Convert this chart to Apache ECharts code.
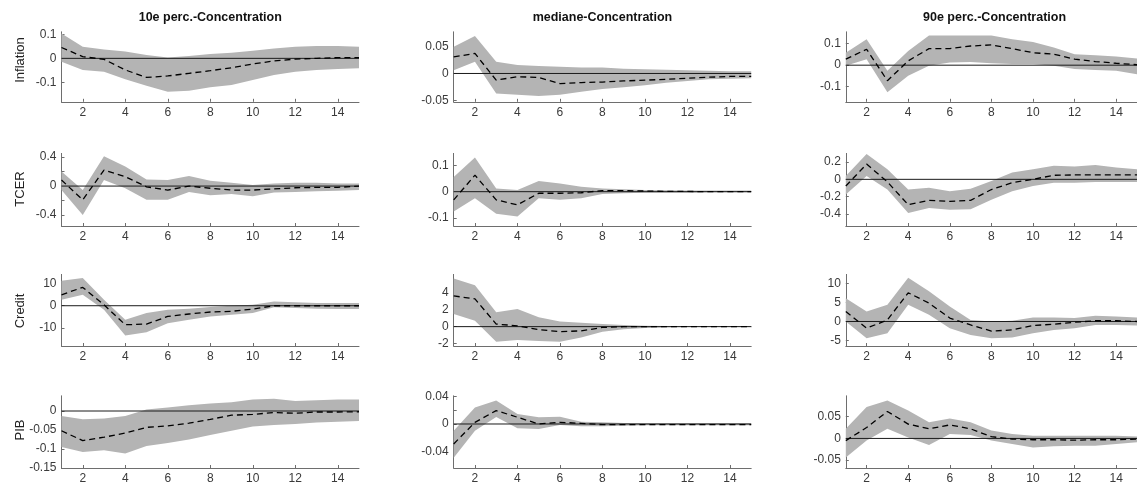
<!DOCTYPE html>
<html>
<head>
<meta charset="utf-8">
<script src="https://cdn.jsdelivr.net/npm/echarts@6/dist/echarts.min.js"></script>
<style>
html,body{margin:0;padding:0;background:#fff;}
#chart{width:1137px;height:494px;}
</style>
</head>
<body>
<div id="chart"></div>
<script>
// ---- categories / labels ----
const horizons = [1,2,3,4,5,6,7,8,9,10,11,12,13,14,15];
const xTickValues = [2,4,6,8,10,12,14];
const columnTitles = ['10e perc.-Concentration','mediane-Concentration','90e perc.-Concentration'];
const rowNames = ['Inflation','TCER','Credit','PIB'];

// ---- Inflation ----
const inf10Median = [0.045,0.007,-0.004,-0.048,-0.079,-0.073,-0.062,-0.051,-0.039,-0.023,-0.011,-0.003,0.0,0.003,0.003];
const inf10Lower  = [-0.014,-0.048,-0.055,-0.087,-0.114,-0.138,-0.134,-0.12,-0.11,-0.09,-0.069,-0.055,-0.048,-0.044,-0.041];
const inf10Upper  = [0.103,0.048,0.037,0.028,0.014,0.004,0.01,0.018,0.023,0.032,0.041,0.048,0.051,0.051,0.048];

const inf50Median = [0.031,0.0375,-0.0125,-0.006,-0.0075,-0.019,-0.017,-0.016,-0.014,-0.0125,-0.011,-0.009,-0.007,-0.0056,-0.0056];
const inf50Lower  = [0.006,0.022,-0.0375,-0.04,-0.042,-0.04,-0.034,-0.029,-0.026,-0.022,-0.0175,-0.014,-0.011,-0.01,-0.009];
const inf50Upper  = [0.05,0.07,0.022,0.016,0.014,0.0125,0.011,0.011,0.009,0.008,0.007,0.006,0.005,0.004,0.004];

const inf90Median = [0.028,0.074,-0.072,0.02,0.077,0.077,0.089,0.094,0.077,0.058,0.051,0.028,0.017,0.009,0.002];
const inf90Lower  = [-0.003,0.028,-0.126,-0.049,-0.003,0.012,0.015,0.009,0.005,0.005,-0.003,-0.018,-0.022,-0.026,-0.042];
const inf90Upper  = [0.058,0.12,-0.026,0.066,0.138,0.138,0.138,0.138,0.12,0.108,0.082,0.051,0.046,0.04,0.031];

// ---- TCER ----
const tcer10Median = [0.083,-0.19,0.22,0.13,-0.01,-0.055,0,-0.03,-0.055,-0.055,-0.04,-0.023,-0.018,-0.018,0];
const tcer10Lower  = [-0.055,-0.4,0.083,-0.03,-0.19,-0.19,-0.08,-0.125,-0.11,-0.14,-0.09,-0.08,-0.07,-0.065,-0.055];
const tcer10Upper  = [0.2,-0.055,0.41,0.27,0.09,0.083,0.14,0.074,0.046,0.014,0.037,0.046,0.046,0.037,0.037];

const tcer50Median = [-0.031,0.0625,-0.031,-0.05,-0.006,-0.006,-0.004,0.004,0.004,0.0025,0.001,0.001,0,0,0];
const tcer50Lower  = [-0.075,-0.025,-0.084,-0.094,-0.025,-0.031,-0.025,-0.009,-0.006,-0.004,-0.004,-0.004,-0.0025,-0.0025,-0.0025];
const tcer50Upper  = [0.056,0.129,0.0125,0.006,0.04,0.031,0.019,0.0125,0.009,0.006,0.005,0.004,0.004,0.004,0.004];

const tcer90Median = [-0.078,0.176,-0.03,-0.294,-0.243,-0.255,-0.243,-0.118,-0.039,0,0.047,0.051,0.051,0.051,0.051];
const tcer90Lower  = [-0.176,0.039,-0.118,-0.39,-0.333,-0.353,-0.345,-0.235,-0.137,-0.078,-0.039,-0.039,-0.031,-0.031,-0.031];
const tcer90Upper  = [0.039,0.294,0.118,-0.118,-0.098,-0.137,-0.11,-0.02,0.078,0.118,0.157,0.149,0.165,0.137,0.118];

// ---- Credit ----
const cred10Median = [4.9,8.2,0.4,-8.5,-8.2,-4.8,-3.7,-2.8,-2.5,-1.5,0,0,0,0,0];
const cred10Lower  = [2.7,4.9,-1.8,-13.3,-11.8,-7.8,-6.3,-4.8,-4,-3.3,-0.7,-1,-1.3,-1.5,-1.5];
const cred10Upper  = [11.2,12.4,2.7,-6.3,-3.3,-1.8,-1.3,-0.6,0,0.4,1.9,1.6,1.2,1.2,1.2];

const cred50Median = [3.64,3.3,0.3,0.1,-0.36,-0.6,-0.5,-0.1,0,0,0,0,0,0,0];
const cred50Lower  = [1.5,0.7,-1.8,-1.6,-1.7,-1.8,-1.3,-0.6,-0.3,-0.15,-0.08,-0.05,-0.05,-0.05,-0.05];
const cred50Upper  = [5.7,4.9,1.7,2.1,1.1,0.6,0.45,0.3,0.2,0.1,0.08,0.08,0.08,0.08,0.08];

const cred90Median = [2.6,-1.75,0.4,7.5,4.8,0.9,-0.9,-2.5,-2.2,-1.05,-0.7,-0.2,0.2,0.2,0];
const cred90Lower  = [0,-4.4,-3.1,4.4,1.75,-1.75,-3.5,-4.4,-4.2,-3.1,-2.2,-1.75,-0.9,-0.9,-1.05];
const cred90Upper  = [6.1,2.6,4.4,11.4,7.9,3.9,0.4,0,0.2,1.05,1.05,0.9,1.5,1.3,1.05];

// ---- PIB ----
const pib10Median = [-0.052,-0.078,-0.069,-0.058,-0.043,-0.039,-0.032,-0.022,-0.011,-0.009,-0.004,-0.006,-0.0026,-0.0026,-0.002];
const pib10Lower  = [-0.095,-0.108,-0.103,-0.112,-0.092,-0.084,-0.075,-0.063,-0.052,-0.041,-0.037,-0.034,-0.03,-0.028,-0.026];
const pib10Upper  = [-0.013,-0.022,-0.02,-0.013,0.004,0.009,0.015,0.02,0.023,0.03,0.032,0.026,0.028,0.03,0.03];

const pib50Median = [-0.029,0.0024,0.0195,0.0098,0,0.0024,0.001,-0.001,-0.001,-0.001,-0.001,-0.001,-0.001,-0.001,-0.001];
const pib50Lower  = [-0.049,-0.01,0.01,-0.0063,-0.0073,-0.0015,-0.0034,-0.0034,-0.0024,-0.002,-0.002,-0.002,-0.002,-0.002,-0.002];
const pib50Upper  = [-0.01,0.024,0.034,0.0146,0.0098,0.0107,0.0034,0.0024,0.0015,0.001,0.001,0.001,0.001,0.001,0.001];

const pib90Median = [-0.005,0.025,0.062,0.033,0.022,0.031,0.022,0.004,-0.0015,-0.003,-0.003,-0.004,-0.003,-0.003,-0.0015];
const pib90Lower  = [-0.044,-0.005,0.022,0.0023,-0.015,0.01,0.0077,-0.005,-0.013,-0.021,-0.018,-0.017,-0.017,-0.013,-0.009];
const pib90Upper  = [0.022,0.072,0.087,0.064,0.037,0.046,0.037,0.018,0.01,0.006,0.006,0.006,0.006,0.006,0.0046];

// ---- y axis ranges and tick labels (row-major: row, then column) ----
const yMins = [-0.18,-0.053,-0.17, -0.55,-0.13,-0.54, -18,-2.3,-6.4, -0.15,-0.064,-0.068];
const yMaxs = [0.11,0.078,0.155, 0.45,0.145,0.3, 14,6.2,12.3, 0.04,0.041,0.098];
const yLabelValues = [
  [-0.1,0,0.1],[-0.05,0,0.05],[-0.1,0,0.1],
  [-0.4,0,0.4],[-0.1,0,0.1],[-0.4,-0.2,0,0.2],
  [-10,0,10],[-2,0,2,4],[-5,0,5,10],
  [-0.15,-0.1,-0.05,0],[-0.04,0,0.04],[-0.05,0,0.05]
];
const yTickValues = [
  [-0.1,0,0.1],[-0.05,0,0.05],[-0.1,0,0.1],
  [-0.4,-0.2,0,0.2,0.4],[-0.1,-0.05,0,0.05,0.1],[-0.4,-0.2,0,0.2],
  [-10,0,10],[-2,0,2,4],[-5,0,5,10],
  [-0.15,-0.1,-0.05,0],[-0.04,-0.02,0,0.02,0.04],[-0.05,0,0.05]
];

const panels = [
  [inf10Median,inf10Lower,inf10Upper],[inf50Median,inf50Lower,inf50Upper],[inf90Median,inf90Lower,inf90Upper],
  [tcer10Median,tcer10Lower,tcer10Upper],[tcer50Median,tcer50Lower,tcer50Upper],[tcer90Median,tcer90Lower,tcer90Upper],
  [cred10Median,cred10Lower,cred10Upper],[cred50Median,cred50Lower,cred50Upper],[cred90Median,cred90Lower,cred90Upper],
  [pib10Median,pib10Lower,pib10Upper],[pib50Median,pib50Lower,pib50Upper],[pib90Median,pib90Lower,pib90Upper]
];

// ---- layout ----
const colLefts = [61.5, 453.7, 845.8];
const colWidth = 297.5;
const rowTops = [31.8, 153.4, 274.4, 395.8];
const rowHeights = [70, 72.6, 71.6, 72.2];
const FONT = "'Liberation Sans', Arial, Helvetica, sans-serif";
const axisColor = '#6e6e6e';
const labelColor = '#3a3a3a';
const bandColor = '#b4b4b4';

const grids = [], xAxes = [], yAxes = [], series = [], graphics = [];

function makeBandRenderer(lo, hi) {
  return function (params, api) {
    if (params.dataIndexInside !== 0) return null;
    const pts = [];
    for (let k = 0; k < horizons.length; k++) pts.push(api.coord([horizons[k], hi[k]]));
    for (let k = horizons.length - 1; k >= 0; k--) pts.push(api.coord([horizons[k], lo[k]]));
    return {type: 'polygon', shape: {points: pts}, style: {fill: bandColor, stroke: null}, silent: true};
  };
}

for (let r = 0; r < 4; r++) {
  for (let c = 0; c < 3; c++) {
    const i = r * 3 + c;
    grids.push({left: colLefts[c], top: rowTops[r], width: colWidth, height: rowHeights[r], containLabel: false});
    xAxes.push({
      type: 'value', gridIndex: i, min: 1, max: 15,
      axisLine: {show: true, onZero: false, lineStyle: {color: axisColor, width: 1}},
      axisTick: {show: true, inside: true, length: 3, customValues: xTickValues, lineStyle: {color: axisColor}},
      axisLabel: {show: true, customValues: xTickValues, color: labelColor, fontSize: 12, fontFamily: FONT, margin: 5},
      splitLine: {show: false}
    });
    yAxes.push({
      type: 'value', gridIndex: i, min: yMins[i], max: yMaxs[i],
      axisLine: {show: true, onZero: false, lineStyle: {color: axisColor, width: 1}},
      axisTick: {show: true, inside: true, length: 3, customValues: yTickValues[i], lineStyle: {color: axisColor}},
      axisLabel: {show: true, customValues: yLabelValues[i], color: labelColor, fontSize: 12, fontFamily: FONT, margin: 5,
        formatter: v => String(v)},
      splitLine: {show: false}
    });
    const [med, lo, hi] = panels[i];
    series.push({
      type: 'custom', coordinateSystem: 'cartesian2d', xAxisIndex: i, yAxisIndex: i,
      data: horizons.map((x, k) => [x, lo[k], hi[k]]),
      encode: {x: 0, y: [1, 2]},
      renderItem: makeBandRenderer(lo, hi), silent: true, z: 1
    });
    series.push({
      type: 'line', xAxisIndex: i, yAxisIndex: i,
      data: [[horizons[0], 0], [horizons[horizons.length - 1], 0]], symbol: 'none', silent: true,
      lineStyle: {color: '#1a1a1a', width: 1}, z: 2
    });
    series.push({
      type: 'line', xAxisIndex: i, yAxisIndex: i,
      data: horizons.map((x, k) => [x, med[k]]), symbol: 'none', silent: true,
      lineStyle: {color: '#000', width: 1.3, type: [6, 4]}, z: 3
    });
  }
}

for (let c = 0; c < 3; c++) {
  graphics.push({type: 'text', x: colLefts[c] + colWidth / 2, y: 18,
    style: {text: columnTitles[c], font: "bold 12.5px " + FONT, fill: '#111', textAlign: 'center', textVerticalAlign: 'middle'}});
}
const rowLabelY = [60, 189, 311, 430];
for (let r = 0; r < 4; r++) {
  graphics.push({type: 'text', x: 20, y: rowLabelY[r], rotation: Math.PI / 2,
    style: {text: rowNames[r], font: "13px " + FONT, fill: '#222', textAlign: 'center', textVerticalAlign: 'middle'}});
}

const chart = echarts.init(document.getElementById('chart'), null, {renderer: 'canvas'});
chart.setOption({
  animation: false,
  backgroundColor: '#fff',
  grid: grids,
  xAxis: xAxes,
  yAxis: yAxes,
  series: series,
  graphic: graphics
});
</script>
</body>
</html>
